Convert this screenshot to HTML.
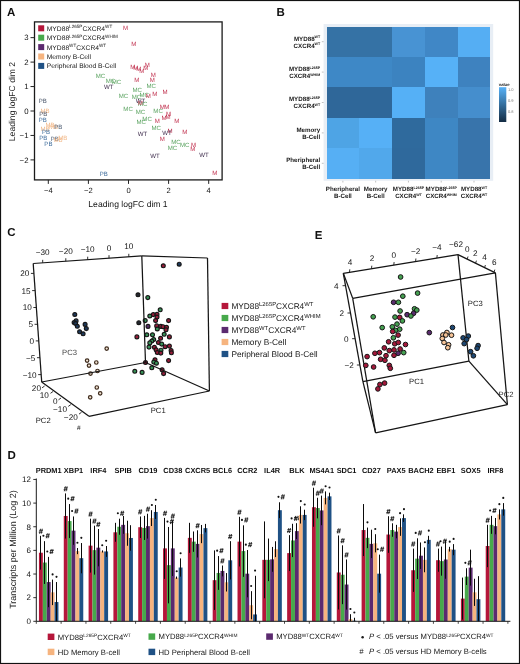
<!DOCTYPE html>
<html><head><meta charset="utf-8"><style>
html,body{margin:0;padding:0;background:#fff;overflow:hidden;width:520px;height:664px;}
svg{display:block;font-family:"Liberation Sans", sans-serif;will-change:transform;text-rendering:geometricPrecision;}
</style></head><body>
<svg width="520" height="664" viewBox="0 0 520 664">
<rect x="0" y="0" width="520" height="664" fill="#fff"/>
<text x="11.15" y="15.7" text-anchor="middle" font-size="11.5" font-weight="bold" fill="#111">A</text>
<text x="280.6" y="15.7" text-anchor="middle" font-size="11.5" font-weight="bold" fill="#111">B</text>
<text x="11.4" y="235.5" text-anchor="middle" font-size="11.5" font-weight="bold" fill="#111">C</text>
<text x="318.6" y="238.9" text-anchor="middle" font-size="11.5" font-weight="bold" fill="#111">E</text>
<text x="11.65" y="458.8" text-anchor="middle" font-size="11.5" font-weight="bold" fill="#111">D</text>
<rect x="34.5" y="21.9" width="187.60" height="158.00" fill="none" stroke="#1a1a1a" stroke-width="1.3"/>
<line x1="30.50" y1="159.90" x2="34.50" y2="159.90" stroke="#222" stroke-width="1.0" />
<text x="28.50" y="162.70" font-size="7.8" text-anchor="end" font-weight="normal" fill="#151515" >−2</text>
<line x1="30.50" y1="135.45" x2="34.50" y2="135.45" stroke="#222" stroke-width="1.0" />
<text x="28.50" y="138.25" font-size="7.8" text-anchor="end" font-weight="normal" fill="#151515" >−1</text>
<line x1="30.50" y1="111.00" x2="34.50" y2="111.00" stroke="#222" stroke-width="1.0" />
<text x="28.50" y="113.80" font-size="7.8" text-anchor="end" font-weight="normal" fill="#151515" >0</text>
<line x1="30.50" y1="86.55" x2="34.50" y2="86.55" stroke="#222" stroke-width="1.0" />
<text x="28.50" y="89.35" font-size="7.8" text-anchor="end" font-weight="normal" fill="#151515" >1</text>
<line x1="30.50" y1="62.10" x2="34.50" y2="62.10" stroke="#222" stroke-width="1.0" />
<text x="28.50" y="64.90" font-size="7.8" text-anchor="end" font-weight="normal" fill="#151515" >2</text>
<line x1="30.50" y1="37.65" x2="34.50" y2="37.65" stroke="#222" stroke-width="1.0" />
<text x="28.50" y="40.45" font-size="7.8" text-anchor="end" font-weight="normal" fill="#151515" >3</text>
<line x1="48.30" y1="179.90" x2="48.30" y2="183.90" stroke="#222" stroke-width="1.0" />
<text x="48.30" y="193.40" font-size="7.6" text-anchor="middle" font-weight="normal" fill="#151515" >−4</text>
<line x1="88.40" y1="179.90" x2="88.40" y2="183.90" stroke="#222" stroke-width="1.0" />
<text x="88.40" y="193.40" font-size="7.6" text-anchor="middle" font-weight="normal" fill="#151515" >−2</text>
<line x1="128.50" y1="179.90" x2="128.50" y2="183.90" stroke="#222" stroke-width="1.0" />
<text x="128.50" y="193.40" font-size="7.6" text-anchor="middle" font-weight="normal" fill="#151515" >0</text>
<line x1="168.60" y1="179.90" x2="168.60" y2="183.90" stroke="#222" stroke-width="1.0" />
<text x="168.60" y="193.40" font-size="7.6" text-anchor="middle" font-weight="normal" fill="#151515" >2</text>
<line x1="208.70" y1="179.90" x2="208.70" y2="183.90" stroke="#222" stroke-width="1.0" />
<text x="208.70" y="193.40" font-size="7.6" text-anchor="middle" font-weight="normal" fill="#151515" >4</text>
<text x="128.00" y="207.30" font-size="8.6" text-anchor="middle" font-weight="normal" fill="#151515" >Leading logFC dim 1</text>
<text transform="translate(14.5,101.5) rotate(-90)" font-size="8.6" text-anchor="middle" fill="#222">Leading logFC dim 2</text>
<rect x="38.20" y="25.30" width="6.00" height="6.00" fill="#b5163a" />
<text x="46.80" y="30.70" font-size="6.7" text-anchor="start" font-weight="normal" fill="#151515" >MYD88<tspan font-size="4.6" dy="-2.6">L265P</tspan><tspan dy="2.6">CXCR4</tspan><tspan font-size="4.6" dy="-2.6">WT</tspan></text>
<rect x="38.20" y="34.70" width="6.00" height="6.00" fill="#47a94b" />
<text x="46.80" y="40.10" font-size="6.7" text-anchor="start" font-weight="normal" fill="#151515" >MYD88<tspan font-size="4.6" dy="-2.6">L265P</tspan><tspan dy="2.6">CXCR4</tspan><tspan font-size="4.6" dy="-2.6">WHIM</tspan></text>
<rect x="38.20" y="44.10" width="6.00" height="6.00" fill="#5b2a6f" />
<text x="46.80" y="49.50" font-size="6.7" text-anchor="start" font-weight="normal" fill="#151515" >MYD88<tspan font-size="4.6" dy="-2.6">WT</tspan><tspan dy="2.6">CXCR4</tspan><tspan font-size="4.6" dy="-2.6">WT</tspan></text>
<rect x="38.20" y="53.50" width="6.00" height="6.00" fill="#f6b47f" />
<text x="46.80" y="58.90" font-size="6.7" text-anchor="start" font-weight="normal" fill="#151515" >Memory B-Cell</text>
<rect x="38.20" y="62.90" width="6.00" height="6.00" fill="#1f5185" />
<text x="46.80" y="68.30" font-size="6.7" text-anchor="start" font-weight="normal" fill="#151515" >Peripheral Blood B-Cell</text>
<text x="125.50" y="29.90" font-size="6.1" text-anchor="middle" font-weight="normal" fill="#c23552" >M</text>
<text x="133.70" y="46.20" font-size="6.1" text-anchor="middle" font-weight="normal" fill="#c23552" >M</text>
<text x="132.70" y="69.20" font-size="6.1" text-anchor="middle" font-weight="normal" fill="#c23552" >M</text>
<text x="135.80" y="70.30" font-size="6.1" text-anchor="middle" font-weight="normal" fill="#c23552" >M</text>
<text x="138.80" y="71.00" font-size="6.1" text-anchor="middle" font-weight="normal" fill="#c23552" >M</text>
<text x="141.90" y="72.60" font-size="6.1" text-anchor="middle" font-weight="normal" fill="#c23552" >M</text>
<text x="145.80" y="70.30" font-size="6.1" text-anchor="middle" font-weight="normal" fill="#c23552" >M</text>
<text x="147.30" y="66.70" font-size="6.1" text-anchor="middle" font-weight="normal" fill="#c23552" >M</text>
<text x="136.80" y="81.80" font-size="6.1" text-anchor="middle" font-weight="normal" fill="#c23552" >M</text>
<text x="153.20" y="76.90" font-size="6.1" text-anchor="middle" font-weight="normal" fill="#c23552" >M</text>
<text x="152.20" y="81.50" font-size="6.1" text-anchor="middle" font-weight="normal" fill="#c23552" >M</text>
<text x="151.20" y="88.30" font-size="6.1" text-anchor="middle" font-weight="normal" fill="#5ca462" >MC</text>
<text x="137.30" y="92.30" font-size="6.1" text-anchor="middle" font-weight="normal" fill="#5ca462" >MC</text>
<text x="123.50" y="98.40" font-size="6.1" text-anchor="middle" font-weight="normal" fill="#5ca462" >MC</text>
<text x="136.50" y="98.70" font-size="6.1" text-anchor="middle" font-weight="normal" fill="#5ca462" >MC</text>
<text x="144.20" y="96.90" font-size="6.1" text-anchor="middle" font-weight="normal" fill="#5ca462" >MC</text>
<text x="148.40" y="97.50" font-size="6.1" text-anchor="middle" font-weight="normal" fill="#c23552" >M</text>
<text x="154.70" y="96.00" font-size="6.1" text-anchor="middle" font-weight="normal" fill="#c23552" >M</text>
<text x="165.00" y="94.10" font-size="6.1" text-anchor="middle" font-weight="normal" fill="#c23552" >M</text>
<text x="140.40" y="102.60" font-size="6.1" text-anchor="middle" font-weight="normal" fill="#3e2c4c" >WT</text>
<text x="142.70" y="106.10" font-size="6.1" text-anchor="middle" font-weight="normal" fill="#5ca462" >MC</text>
<text x="140.40" y="104.90" font-size="6.1" text-anchor="middle" font-weight="normal" fill="#c23552" >M</text>
<text x="128.10" y="111.00" font-size="6.1" text-anchor="middle" font-weight="normal" fill="#5ca462" >MC</text>
<text x="140.40" y="114.40" font-size="6.1" text-anchor="middle" font-weight="normal" fill="#5ca462" >MC</text>
<text x="158.10" y="113.40" font-size="6.1" text-anchor="middle" font-weight="normal" fill="#5ca462" >MC</text>
<text x="162.20" y="108.60" font-size="6.1" text-anchor="middle" font-weight="normal" fill="#c23552" >M</text>
<text x="166.70" y="109.40" font-size="6.1" text-anchor="middle" font-weight="normal" fill="#c23552" >M</text>
<text x="168.60" y="115.80" font-size="6.1" text-anchor="middle" font-weight="normal" fill="#c23552" >M</text>
<text x="164.10" y="119.70" font-size="6.1" text-anchor="middle" font-weight="normal" fill="#c23552" >M</text>
<text x="168.00" y="119.20" font-size="6.1" text-anchor="middle" font-weight="normal" fill="#c23552" >M</text>
<text x="141.20" y="123.70" font-size="6.1" text-anchor="middle" font-weight="normal" fill="#5ca462" >MC</text>
<text x="147.10" y="120.70" font-size="6.1" text-anchor="middle" font-weight="normal" fill="#5ca462" >MC</text>
<text x="157.30" y="122.70" font-size="6.1" text-anchor="middle" font-weight="normal" fill="#c23552" >M</text>
<text x="176.90" y="122.70" font-size="6.1" text-anchor="middle" font-weight="normal" fill="#c23552" >M</text>
<text x="156.30" y="129.60" font-size="6.1" text-anchor="middle" font-weight="normal" fill="#5ca462" >MC</text>
<text x="142.50" y="136.40" font-size="6.1" text-anchor="middle" font-weight="normal" fill="#3e2c4c" >WT</text>
<text x="170.00" y="132.90" font-size="6.1" text-anchor="middle" font-weight="normal" fill="#c23552" >M</text>
<text x="167.10" y="135.40" font-size="6.1" text-anchor="middle" font-weight="normal" fill="#3e2c4c" >WT</text>
<text x="184.70" y="134.10" font-size="6.1" text-anchor="middle" font-weight="normal" fill="#c23552" >M</text>
<text x="162.20" y="141.30" font-size="6.1" text-anchor="middle" font-weight="normal" fill="#c23552" >M</text>
<text x="175.90" y="143.90" font-size="6.1" text-anchor="middle" font-weight="normal" fill="#5ca462" >MC</text>
<text x="184.70" y="147.20" font-size="6.1" text-anchor="middle" font-weight="normal" fill="#5ca462" >MC</text>
<text x="172.50" y="149.70" font-size="6.1" text-anchor="middle" font-weight="normal" fill="#5ca462" >MC</text>
<text x="193.50" y="146.60" font-size="6.1" text-anchor="middle" font-weight="normal" fill="#c23552" >M</text>
<text x="192.90" y="150.50" font-size="6.1" text-anchor="middle" font-weight="normal" fill="#c23552" >M</text>
<text x="154.90" y="157.60" font-size="6.1" text-anchor="middle" font-weight="normal" fill="#3e2c4c" >WT</text>
<text x="203.90" y="157.00" font-size="6.1" text-anchor="middle" font-weight="normal" fill="#3e2c4c" >WT</text>
<text x="214.70" y="174.70" font-size="6.1" text-anchor="middle" font-weight="normal" fill="#c23552" >M</text>
<text x="100.40" y="78.00" font-size="6.1" text-anchor="middle" font-weight="normal" fill="#5ca462" >MC</text>
<text x="110.40" y="82.60" font-size="6.1" text-anchor="middle" font-weight="normal" fill="#5ca462" >MC</text>
<text x="116.50" y="84.10" font-size="6.1" text-anchor="middle" font-weight="normal" fill="#5ca462" >MC</text>
<text x="108.80" y="88.70" font-size="6.1" text-anchor="middle" font-weight="normal" fill="#3e2c4c" >WT</text>
<text x="42.70" y="102.80" font-size="6.1" text-anchor="middle" font-weight="normal" fill="#4a5568" >PB</text>
<text x="45.00" y="113.00" font-size="6.1" text-anchor="middle" font-weight="normal" fill="#f2b98a" >MB</text>
<text x="43.20" y="115.80" font-size="6.1" text-anchor="middle" font-weight="normal" fill="#4a5060" >PB</text>
<text x="42.70" y="122.00" font-size="6.1" text-anchor="middle" font-weight="normal" fill="#3f6d9c" >PB</text>
<text x="50.10" y="126.80" font-size="6.1" text-anchor="middle" font-weight="normal" fill="#f2b98a" >MB</text>
<text x="53.50" y="128.70" font-size="6.1" text-anchor="middle" font-weight="normal" fill="#f2b98a" >MB</text>
<text x="58.20" y="128.90" font-size="6.1" text-anchor="middle" font-weight="normal" fill="#4a5a70" >PB</text>
<text x="45.00" y="130.80" font-size="6.1" text-anchor="middle" font-weight="normal" fill="#f2b98a" >MB</text>
<text x="46.10" y="134.00" font-size="6.1" text-anchor="middle" font-weight="normal" fill="#3f6d9c" >PB</text>
<text x="43.20" y="139.50" font-size="6.1" text-anchor="middle" font-weight="normal" fill="#3f6d9c" >PB</text>
<text x="54.80" y="141.20" font-size="6.1" text-anchor="middle" font-weight="normal" fill="#4a5a70" >PB</text>
<text x="62.80" y="140.10" font-size="6.1" text-anchor="middle" font-weight="normal" fill="#f2b98a" >MB</text>
<text x="58.00" y="141.70" font-size="6.1" text-anchor="middle" font-weight="normal" fill="#f2b98a" >MB</text>
<text x="48.40" y="146.40" font-size="6.1" text-anchor="middle" font-weight="normal" fill="#3f6d9c" >PB</text>
<text x="103.80" y="175.70" font-size="6.1" text-anchor="middle" font-weight="normal" fill="#3f6d9c" >PB</text>
<rect x="323.60" y="24.00" width="169.60" height="156.80" fill="#e8eef5" />
<rect x="326.50" y="26.50" width="33.38" height="31.00" fill="#3572a5" shape-rendering="crispEdges"/>
<rect x="359.28" y="26.50" width="33.38" height="31.00" fill="#3572a5" shape-rendering="crispEdges"/>
<rect x="392.06" y="26.50" width="33.38" height="31.00" fill="#4893d3" shape-rendering="crispEdges"/>
<rect x="424.84" y="26.50" width="33.38" height="31.00" fill="#4087c6" shape-rendering="crispEdges"/>
<rect x="457.62" y="26.50" width="32.78" height="31.00" fill="#55aef3" shape-rendering="crispEdges"/>
<rect x="326.50" y="56.90" width="33.38" height="31.00" fill="#3e88c6" shape-rendering="crispEdges"/>
<rect x="359.28" y="56.90" width="33.38" height="31.00" fill="#3e88c6" shape-rendering="crispEdges"/>
<rect x="392.06" y="56.90" width="33.38" height="31.00" fill="#3c83c0" shape-rendering="crispEdges"/>
<rect x="424.84" y="56.90" width="33.38" height="31.00" fill="#56b1f7" shape-rendering="crispEdges"/>
<rect x="457.62" y="56.90" width="32.78" height="31.00" fill="#3e82bf" shape-rendering="crispEdges"/>
<rect x="326.50" y="87.30" width="33.38" height="31.00" fill="#2f6799" shape-rendering="crispEdges"/>
<rect x="359.28" y="87.30" width="33.38" height="31.00" fill="#2f6799" shape-rendering="crispEdges"/>
<rect x="392.06" y="87.30" width="33.38" height="31.00" fill="#55b0f6" shape-rendering="crispEdges"/>
<rect x="424.84" y="87.30" width="33.38" height="31.00" fill="#3e81bc" shape-rendering="crispEdges"/>
<rect x="457.62" y="87.30" width="32.78" height="31.00" fill="#458ecd" shape-rendering="crispEdges"/>
<rect x="326.50" y="117.70" width="33.38" height="31.00" fill="#4ea4e5" shape-rendering="crispEdges"/>
<rect x="359.28" y="117.70" width="33.38" height="31.00" fill="#56b0f6" shape-rendering="crispEdges"/>
<rect x="392.06" y="117.70" width="33.38" height="31.00" fill="#2f6a9d" shape-rendering="crispEdges"/>
<rect x="424.84" y="117.70" width="33.38" height="31.00" fill="#3e87c4" shape-rendering="crispEdges"/>
<rect x="457.62" y="117.70" width="32.78" height="31.00" fill="#3874ab" shape-rendering="crispEdges"/>
<rect x="326.50" y="148.10" width="33.38" height="30.40" fill="#56aff4" shape-rendering="crispEdges"/>
<rect x="359.28" y="148.10" width="33.38" height="30.40" fill="#51a8eb" shape-rendering="crispEdges"/>
<rect x="392.06" y="148.10" width="33.38" height="30.40" fill="#2f699c" shape-rendering="crispEdges"/>
<rect x="424.84" y="148.10" width="33.38" height="30.40" fill="#3e87c4" shape-rendering="crispEdges"/>
<rect x="457.62" y="148.10" width="32.78" height="30.40" fill="#3874ab" shape-rendering="crispEdges"/>
<text x="320.20" y="40.50" font-size="6.2" text-anchor="end" font-weight="bold" fill="#1a1a1a" >MYD88<tspan font-size="3.6" dy="-2.2">WT</tspan></text>
<text x="320.20" y="47.50" font-size="6.2" text-anchor="end" font-weight="bold" fill="#1a1a1a" >CXCR4<tspan font-size="3.6" dy="-2.2">WT</tspan></text>
<text x="320.20" y="70.90" font-size="6.2" text-anchor="end" font-weight="bold" fill="#1a1a1a" >MYD88<tspan font-size="3.6" dy="-2.2">L265P</tspan></text>
<text x="320.20" y="77.90" font-size="6.2" text-anchor="end" font-weight="bold" fill="#1a1a1a" >CXCR4<tspan font-size="3.6" dy="-2.2">WHIM</tspan></text>
<text x="320.20" y="101.30" font-size="6.2" text-anchor="end" font-weight="bold" fill="#1a1a1a" >MYD88<tspan font-size="3.6" dy="-2.2">L265P</tspan></text>
<text x="320.20" y="108.30" font-size="6.2" text-anchor="end" font-weight="bold" fill="#1a1a1a" >CXCR4<tspan font-size="3.6" dy="-2.2">WT</tspan></text>
<text x="320.20" y="131.70" font-size="6.2" text-anchor="end" font-weight="bold" fill="#1a1a1a" >Memory</text>
<text x="320.20" y="138.70" font-size="6.2" text-anchor="end" font-weight="bold" fill="#1a1a1a" >B-Cell</text>
<text x="320.20" y="162.10" font-size="6.2" text-anchor="end" font-weight="bold" fill="#1a1a1a" >Pheripheral</text>
<text x="320.20" y="169.10" font-size="6.2" text-anchor="end" font-weight="bold" fill="#1a1a1a" >B-Cell</text>
<line x1="342.89" y1="180.80" x2="342.89" y2="182.50" stroke="#999" stroke-width="0.6" />
<text x="342.89" y="191.00" font-size="6.2" text-anchor="middle" font-weight="bold" fill="#1a1a1a" >Pheripheral</text>
<text x="342.89" y="197.80" font-size="6.2" text-anchor="middle" font-weight="bold" fill="#1a1a1a" >B-Cell</text>
<line x1="375.67" y1="180.80" x2="375.67" y2="182.50" stroke="#999" stroke-width="0.6" />
<text x="375.67" y="191.00" font-size="6.2" text-anchor="middle" font-weight="bold" fill="#1a1a1a" >Memory</text>
<text x="375.67" y="197.80" font-size="6.2" text-anchor="middle" font-weight="bold" fill="#1a1a1a" >B-Cell</text>
<line x1="408.45" y1="180.80" x2="408.45" y2="182.50" stroke="#999" stroke-width="0.6" />
<text x="408.45" y="191.00" font-size="6.2" text-anchor="middle" font-weight="bold" fill="#1a1a1a" >MYD88<tspan font-size="3.6" dy="-2.2">L265P</tspan></text>
<text x="408.45" y="197.80" font-size="6.2" text-anchor="middle" font-weight="bold" fill="#1a1a1a" >CXCR4<tspan font-size="3.6" dy="-2.2">WT</tspan></text>
<line x1="441.23" y1="180.80" x2="441.23" y2="182.50" stroke="#999" stroke-width="0.6" />
<text x="441.23" y="191.00" font-size="6.2" text-anchor="middle" font-weight="bold" fill="#1a1a1a" >MYD88<tspan font-size="3.6" dy="-2.2">L265P</tspan></text>
<text x="441.23" y="197.80" font-size="6.2" text-anchor="middle" font-weight="bold" fill="#1a1a1a" >CXCR4<tspan font-size="3.6" dy="-2.2">WHIM</tspan></text>
<line x1="474.01" y1="180.80" x2="474.01" y2="182.50" stroke="#999" stroke-width="0.6" />
<text x="474.01" y="191.00" font-size="6.2" text-anchor="middle" font-weight="bold" fill="#1a1a1a" >MYD88<tspan font-size="3.6" dy="-2.2">WT</tspan></text>
<text x="474.01" y="197.80" font-size="6.2" text-anchor="middle" font-weight="bold" fill="#1a1a1a" >CXCR4<tspan font-size="3.6" dy="-2.2">WT</tspan></text>
<line x1="321.80" y1="41.70" x2="323.60" y2="41.70" stroke="#999" stroke-width="0.6" />
<line x1="321.80" y1="72.10" x2="323.60" y2="72.10" stroke="#999" stroke-width="0.6" />
<line x1="321.80" y1="102.50" x2="323.60" y2="102.50" stroke="#999" stroke-width="0.6" />
<line x1="321.80" y1="132.90" x2="323.60" y2="132.90" stroke="#999" stroke-width="0.6" />
<line x1="321.80" y1="163.30" x2="323.60" y2="163.30" stroke="#999" stroke-width="0.6" />
<defs><linearGradient id="hg" x1="0" y1="0" x2="0" y2="1"><stop offset="0" stop-color="#56b1f7"/><stop offset="1" stop-color="#132b43"/></linearGradient></defs>
<text x="498.80" y="86.00" font-size="4.2" text-anchor="start" font-weight="bold" fill="#151515" >value</text>
<rect x="499.00" y="87.20" width="7.30" height="34.80" fill="url(#hg)" />
<text x="508.00" y="91.30" font-size="4.0" text-anchor="start" font-weight="normal" fill="#777" >1.0</text>
<text x="508.00" y="102.30" font-size="4.0" text-anchor="start" font-weight="normal" fill="#777" >0.9</text>
<text x="508.00" y="113.30" font-size="4.0" text-anchor="start" font-weight="normal" fill="#777" >0.8</text>
<line x1="42.70" y1="262.84" x2="42.70" y2="259.84" stroke="#1a1a1a" stroke-width="0.9" />
<text x="42.70" y="255.20" font-size="8.2" text-anchor="middle" font-weight="normal" fill="#151515" >−30</text>
<line x1="65.80" y1="261.22" x2="65.80" y2="258.22" stroke="#1a1a1a" stroke-width="0.9" />
<text x="65.80" y="253.60" font-size="8.2" text-anchor="middle" font-weight="normal" fill="#151515" >−20</text>
<line x1="87.70" y1="259.69" x2="87.70" y2="256.69" stroke="#1a1a1a" stroke-width="0.9" />
<text x="87.70" y="252.40" font-size="8.2" text-anchor="middle" font-weight="normal" fill="#151515" >−10</text>
<line x1="109.00" y1="258.20" x2="109.00" y2="255.20" stroke="#1a1a1a" stroke-width="0.9" />
<text x="109.00" y="250.60" font-size="8.2" text-anchor="middle" font-weight="normal" fill="#151515" >0</text>
<line x1="128.80" y1="256.81" x2="128.80" y2="253.81" stroke="#1a1a1a" stroke-width="0.9" />
<text x="128.80" y="249.00" font-size="8.2" text-anchor="middle" font-weight="normal" fill="#151515" >10</text>
<line x1="30.91" y1="273.40" x2="33.91" y2="273.40" stroke="#1a1a1a" stroke-width="0.9" />
<text x="29.31" y="276.30" font-size="8.2" text-anchor="end" font-weight="normal" fill="#151515" >20</text>
<line x1="32.14" y1="290.60" x2="35.14" y2="290.60" stroke="#1a1a1a" stroke-width="0.9" />
<text x="30.54" y="293.50" font-size="8.2" text-anchor="end" font-weight="normal" fill="#151515" >15</text>
<line x1="33.36" y1="307.50" x2="36.36" y2="307.50" stroke="#1a1a1a" stroke-width="0.9" />
<text x="31.76" y="310.40" font-size="8.2" text-anchor="end" font-weight="normal" fill="#151515" >10</text>
<line x1="34.56" y1="324.30" x2="37.56" y2="324.30" stroke="#1a1a1a" stroke-width="0.9" />
<text x="32.96" y="327.20" font-size="8.2" text-anchor="end" font-weight="normal" fill="#151515" >5</text>
<line x1="35.75" y1="340.90" x2="38.75" y2="340.90" stroke="#1a1a1a" stroke-width="0.9" />
<text x="34.15" y="343.80" font-size="8.2" text-anchor="end" font-weight="normal" fill="#151515" >0</text>
<line x1="36.96" y1="357.70" x2="39.96" y2="357.70" stroke="#1a1a1a" stroke-width="0.9" />
<text x="35.36" y="360.60" font-size="8.2" text-anchor="end" font-weight="normal" fill="#151515" >−5</text>
<line x1="38.17" y1="374.60" x2="41.17" y2="374.60" stroke="#1a1a1a" stroke-width="0.9" />
<text x="36.57" y="377.50" font-size="8.2" text-anchor="end" font-weight="normal" fill="#151515" >−10</text>
<line x1="44.60" y1="386.00" x2="42.10" y2="387.80" stroke="#1a1a1a" stroke-width="0.9" />
<text x="36.40" y="390.90" font-size="8.2" text-anchor="middle" font-weight="normal" fill="#151515" >20</text>
<line x1="53.00" y1="391.50" x2="50.50" y2="393.30" stroke="#1a1a1a" stroke-width="0.9" />
<text x="44.20" y="398.30" font-size="8.2" text-anchor="middle" font-weight="normal" fill="#151515" >10</text>
<line x1="61.00" y1="398.00" x2="58.50" y2="399.80" stroke="#1a1a1a" stroke-width="0.9" />
<text x="55.40" y="404.40" font-size="8.2" text-anchor="middle" font-weight="normal" fill="#151515" >0</text>
<line x1="70.80" y1="404.60" x2="68.30" y2="406.40" stroke="#1a1a1a" stroke-width="0.9" />
<text x="60.00" y="411.90" font-size="8.2" text-anchor="middle" font-weight="normal" fill="#151515" >−10</text>
<line x1="81.50" y1="412.30" x2="79.00" y2="414.10" stroke="#1a1a1a" stroke-width="0.9" />
<text x="70.80" y="419.90" font-size="8.2" text-anchor="middle" font-weight="normal" fill="#151515" >−20</text>
<text x="43.20" y="423.30" font-size="7.7" text-anchor="middle" font-weight="normal" fill="#151515" >PC2</text>
<text x="78.70" y="430.30" font-size="6.5" text-anchor="middle" font-weight="normal" fill="#151515" >#</text>
<text x="158.20" y="413.40" font-size="7.7" text-anchor="middle" font-weight="normal" fill="#151515" >PC1</text>
<text x="69.50" y="355.00" font-size="7.7" text-anchor="middle" font-weight="normal" fill="#444" >PC3</text>
<circle cx="74.8" cy="314.5" r="1.95" fill="#1e3a5c" stroke="#161616" stroke-width="1.15"/>
<circle cx="76.1" cy="320.9" r="1.95" fill="#1e3a5c" stroke="#161616" stroke-width="1.15"/>
<circle cx="74.1" cy="322.5" r="1.95" fill="#1e3a5c" stroke="#161616" stroke-width="1.15"/>
<circle cx="75.6" cy="323.5" r="1.95" fill="#1e3a5c" stroke="#161616" stroke-width="1.15"/>
<circle cx="77.3" cy="326.3" r="1.95" fill="#1e3a5c" stroke="#161616" stroke-width="1.15"/>
<circle cx="85.1" cy="324.4" r="1.95" fill="#1e3a5c" stroke="#161616" stroke-width="1.15"/>
<circle cx="86.3" cy="328.6" r="1.95" fill="#1e3a5c" stroke="#161616" stroke-width="1.15"/>
<circle cx="79.6" cy="331.8" r="1.95" fill="#1e3a5c" stroke="#161616" stroke-width="1.15"/>
<circle cx="83.1" cy="333.8" r="1.95" fill="#1e3a5c" stroke="#161616" stroke-width="1.15"/>
<circle cx="106.7" cy="348.6" r="1.75" fill="#f1e3d3" stroke="#3d2a1c" stroke-width="1.2"/>
<circle cx="87.1" cy="360.6" r="1.75" fill="#f1e3d3" stroke="#3d2a1c" stroke-width="1.2"/>
<circle cx="96.3" cy="362.5" r="1.75" fill="#f1e3d3" stroke="#3d2a1c" stroke-width="1.2"/>
<circle cx="89.0" cy="365.6" r="1.75" fill="#f1e3d3" stroke="#3d2a1c" stroke-width="1.2"/>
<circle cx="97.5" cy="371.0" r="1.75" fill="#f1e3d3" stroke="#3d2a1c" stroke-width="1.2"/>
<circle cx="90.5" cy="373.6" r="1.75" fill="#f1e3d3" stroke="#3d2a1c" stroke-width="1.2"/>
<circle cx="96.8" cy="387.5" r="1.75" fill="#f1e3d3" stroke="#3d2a1c" stroke-width="1.2"/>
<circle cx="100.2" cy="393.3" r="1.75" fill="#f1e3d3" stroke="#3d2a1c" stroke-width="1.2"/>
<circle cx="90.2" cy="397.3" r="1.75" fill="#f1e3d3" stroke="#3d2a1c" stroke-width="1.2"/>
<circle cx="138.0" cy="294.8" r="1.95" fill="#22262e" stroke="#161616" stroke-width="1.15"/>
<circle cx="138.8" cy="322.7" r="1.95" fill="#22262e" stroke="#161616" stroke-width="1.15"/>
<circle cx="163.3" cy="265.8" r="1.95" fill="#9a1c3a" stroke="#161616" stroke-width="1.15"/>
<circle cx="179.2" cy="264.2" r="1.95" fill="#1e3a5c" stroke="#161616" stroke-width="1.15"/>
<circle cx="147.8" cy="297.6" r="1.95" fill="#379357" stroke="#161616" stroke-width="1.15"/>
<circle cx="160.2" cy="309.8" r="1.95" fill="#379357" stroke="#161616" stroke-width="1.15"/>
<circle cx="149.8" cy="316.0" r="1.95" fill="#379357" stroke="#161616" stroke-width="1.15"/>
<circle cx="153.3" cy="314.6" r="1.95" fill="#9a1c3a" stroke="#161616" stroke-width="1.15"/>
<circle cx="157.0" cy="314.4" r="1.95" fill="#9a1c3a" stroke="#161616" stroke-width="1.15"/>
<circle cx="157.0" cy="317.1" r="1.95" fill="#9a1c3a" stroke="#161616" stroke-width="1.15"/>
<circle cx="145.2" cy="320.6" r="1.95" fill="#379357" stroke="#161616" stroke-width="1.15"/>
<circle cx="155.6" cy="320.6" r="1.95" fill="#9a1c3a" stroke="#161616" stroke-width="1.15"/>
<circle cx="168.6" cy="320.6" r="1.95" fill="#9a1c3a" stroke="#161616" stroke-width="1.15"/>
<circle cx="148.0" cy="326.4" r="1.95" fill="#552c68" stroke="#161616" stroke-width="1.15"/>
<circle cx="156.7" cy="325.9" r="1.95" fill="#9a1c3a" stroke="#161616" stroke-width="1.15"/>
<circle cx="160.8" cy="326.4" r="1.95" fill="#9a1c3a" stroke="#161616" stroke-width="1.15"/>
<circle cx="163.0" cy="326.7" r="1.95" fill="#9a1c3a" stroke="#161616" stroke-width="1.15"/>
<circle cx="166.5" cy="327.3" r="1.95" fill="#9a1c3a" stroke="#161616" stroke-width="1.15"/>
<circle cx="157.3" cy="329.0" r="1.95" fill="#379357" stroke="#161616" stroke-width="1.15"/>
<circle cx="166.0" cy="329.8" r="1.95" fill="#9a1c3a" stroke="#161616" stroke-width="1.15"/>
<circle cx="136.9" cy="336.9" r="1.95" fill="#9a1c3a" stroke="#161616" stroke-width="1.15"/>
<circle cx="146.8" cy="334.8" r="1.95" fill="#379357" stroke="#161616" stroke-width="1.15"/>
<circle cx="152.5" cy="334.8" r="1.95" fill="#379357" stroke="#161616" stroke-width="1.15"/>
<circle cx="164.2" cy="334.3" r="1.95" fill="#379357" stroke="#161616" stroke-width="1.15"/>
<circle cx="169.4" cy="336.9" r="1.95" fill="#9a1c3a" stroke="#161616" stroke-width="1.15"/>
<circle cx="160.6" cy="338.3" r="1.95" fill="#9a1c3a" stroke="#161616" stroke-width="1.15"/>
<circle cx="153.7" cy="339.5" r="1.95" fill="#379357" stroke="#161616" stroke-width="1.15"/>
<circle cx="151.8" cy="341.0" r="1.95" fill="#379357" stroke="#161616" stroke-width="1.15"/>
<circle cx="149.8" cy="342.9" r="1.95" fill="#379357" stroke="#161616" stroke-width="1.15"/>
<circle cx="158.4" cy="342.5" r="1.95" fill="#9a1c3a" stroke="#161616" stroke-width="1.15"/>
<circle cx="161.7" cy="344.1" r="1.95" fill="#379357" stroke="#161616" stroke-width="1.15"/>
<circle cx="149.0" cy="347.1" r="1.95" fill="#379357" stroke="#161616" stroke-width="1.15"/>
<circle cx="154.4" cy="347.3" r="1.95" fill="#9a1c3a" stroke="#161616" stroke-width="1.15"/>
<circle cx="165.1" cy="346.7" r="1.95" fill="#9a1c3a" stroke="#161616" stroke-width="1.15"/>
<circle cx="169.4" cy="346.1" r="1.95" fill="#9a1c3a" stroke="#161616" stroke-width="1.15"/>
<circle cx="156.1" cy="349.8" r="1.95" fill="#9a1c3a" stroke="#161616" stroke-width="1.15"/>
<circle cx="161.0" cy="350.2" r="1.95" fill="#379357" stroke="#161616" stroke-width="1.15"/>
<circle cx="171.1" cy="350.5" r="1.95" fill="#9a1c3a" stroke="#161616" stroke-width="1.15"/>
<circle cx="157.3" cy="352.5" r="1.95" fill="#9a1c3a" stroke="#161616" stroke-width="1.15"/>
<circle cx="160.8" cy="353.1" r="1.95" fill="#9a1c3a" stroke="#161616" stroke-width="1.15"/>
<circle cx="171.4" cy="352.8" r="1.95" fill="#9a1c3a" stroke="#161616" stroke-width="1.15"/>
<circle cx="155.0" cy="359.8" r="1.95" fill="#9a1c3a" stroke="#161616" stroke-width="1.15"/>
<circle cx="153.8" cy="362.1" r="1.95" fill="#379357" stroke="#161616" stroke-width="1.15"/>
<circle cx="156.4" cy="363.2" r="1.95" fill="#379357" stroke="#161616" stroke-width="1.15"/>
<circle cx="168.6" cy="360.6" r="1.95" fill="#9a1c3a" stroke="#161616" stroke-width="1.15"/>
<circle cx="145.5" cy="362.5" r="1.95" fill="#9a1c3a" stroke="#161616" stroke-width="1.15"/>
<circle cx="151.8" cy="367.8" r="1.95" fill="#379357" stroke="#161616" stroke-width="1.15"/>
<circle cx="162.1" cy="369.8" r="1.95" fill="#9a1c3a" stroke="#161616" stroke-width="1.15"/>
<circle cx="163.6" cy="373.6" r="1.95" fill="#9a1c3a" stroke="#161616" stroke-width="1.15"/>
<circle cx="134.8" cy="371.3" r="1.95" fill="#379357" stroke="#161616" stroke-width="1.15"/>
<circle cx="142.1" cy="372.4" r="1.95" fill="#379357" stroke="#161616" stroke-width="1.15"/>
<line x1="33.20" y1="263.50" x2="141.80" y2="255.90" stroke="#151515" stroke-width="1.25" />
<line x1="141.80" y1="255.90" x2="207.50" y2="258.00" stroke="#151515" stroke-width="1.25" />
<line x1="33.20" y1="263.50" x2="41.70" y2="382.00" stroke="#151515" stroke-width="1.25" />
<line x1="141.80" y1="255.90" x2="145.50" y2="362.50" stroke="#151515" stroke-width="1.25" />
<line x1="207.50" y1="258.00" x2="209.40" y2="391.00" stroke="#151515" stroke-width="1.25" />
<line x1="41.70" y1="382.00" x2="145.50" y2="362.50" stroke="#151515" stroke-width="1.25" />
<line x1="145.50" y1="362.50" x2="209.40" y2="391.00" stroke="#151515" stroke-width="1.25" />
<line x1="41.70" y1="382.00" x2="89.00" y2="416.30" stroke="#151515" stroke-width="1.25" />
<line x1="89.00" y1="416.30" x2="209.40" y2="391.00" stroke="#151515" stroke-width="1.25" />
<rect x="221.60" y="302.90" width="6.70" height="6.20" fill="#b5163a" />
<text x="231.40" y="309.00" font-size="8.3" text-anchor="start" font-weight="normal" fill="#151515" >MYD88<tspan font-size="5.9" dy="-3.2">L265P</tspan><tspan dy="3.2">CXCR4</tspan><tspan font-size="5.9" dy="-3.2">WT</tspan></text>
<rect x="221.60" y="314.90" width="6.70" height="6.20" fill="#47a94b" />
<text x="231.40" y="321.00" font-size="8.3" text-anchor="start" font-weight="normal" fill="#151515" >MYD88<tspan font-size="5.9" dy="-3.2">L265P</tspan><tspan dy="3.2">CXCR4</tspan><tspan font-size="5.9" dy="-3.2">WHIM</tspan></text>
<rect x="221.60" y="326.90" width="6.70" height="6.20" fill="#5b2a6f" />
<text x="231.40" y="333.00" font-size="8.3" text-anchor="start" font-weight="normal" fill="#151515" >MYD88<tspan font-size="5.9" dy="-3.2">WT</tspan><tspan dy="3.2">CXCR4</tspan><tspan font-size="5.9" dy="-3.2">WT</tspan></text>
<rect x="221.60" y="338.90" width="6.70" height="6.20" fill="#f6b47f" />
<text x="231.40" y="345.00" font-size="8.3" text-anchor="start" font-weight="normal" fill="#151515" >Memory B-Cell</text>
<rect x="221.60" y="350.90" width="6.70" height="6.20" fill="#1f5185" />
<text x="231.40" y="357.00" font-size="8.3" text-anchor="start" font-weight="normal" fill="#151515" >Peripheral Blood B-Cell</text>
<line x1="343.30" y1="273.30" x2="458.00" y2="254.60" stroke="#151515" stroke-width="1.25" />
<line x1="458.00" y1="254.60" x2="495.40" y2="272.90" stroke="#151515" stroke-width="1.25" />
<line x1="495.40" y1="272.90" x2="352.70" y2="298.30" stroke="#151515" stroke-width="1.25" />
<line x1="352.70" y1="298.30" x2="343.30" y2="273.30" stroke="#151515" stroke-width="1.25" />
<line x1="362.90" y1="381.70" x2="468.90" y2="361.20" stroke="#151515" stroke-width="1.25" />
<line x1="468.90" y1="361.20" x2="507.40" y2="404.60" stroke="#151515" stroke-width="1.25" />
<line x1="507.40" y1="404.60" x2="375.60" y2="432.90" stroke="#151515" stroke-width="1.25" />
<line x1="375.60" y1="432.90" x2="362.90" y2="381.70" stroke="#151515" stroke-width="1.25" />
<line x1="343.30" y1="273.30" x2="362.90" y2="381.70" stroke="#151515" stroke-width="1.25" />
<line x1="458.00" y1="254.60" x2="468.90" y2="361.20" stroke="#151515" stroke-width="1.25" />
<line x1="495.40" y1="272.90" x2="507.40" y2="404.60" stroke="#151515" stroke-width="1.25" />
<line x1="352.70" y1="298.30" x2="375.60" y2="432.90" stroke="#151515" stroke-width="1.25" />
<line x1="349.50" y1="272.29" x2="349.80" y2="269.29" stroke="#1a1a1a" stroke-width="0.9" />
<text x="350.00" y="264.90" font-size="8.2" text-anchor="middle" font-weight="normal" fill="#151515" >4</text>
<line x1="371.50" y1="268.70" x2="371.80" y2="265.70" stroke="#1a1a1a" stroke-width="0.9" />
<text x="372.00" y="261.40" font-size="8.2" text-anchor="middle" font-weight="normal" fill="#151515" >2</text>
<line x1="393.80" y1="265.07" x2="394.10" y2="262.07" stroke="#1a1a1a" stroke-width="0.9" />
<text x="393.80" y="257.50" font-size="8.2" text-anchor="middle" font-weight="normal" fill="#151515" >0</text>
<line x1="415.60" y1="261.51" x2="415.90" y2="258.51" stroke="#1a1a1a" stroke-width="0.9" />
<text x="415.60" y="253.70" font-size="8.2" text-anchor="middle" font-weight="normal" fill="#151515" >−2</text>
<line x1="436.90" y1="258.04" x2="437.20" y2="255.04" stroke="#1a1a1a" stroke-width="0.9" />
<text x="436.90" y="250.20" font-size="8.2" text-anchor="middle" font-weight="normal" fill="#151515" >−4</text>
<text x="456.00" y="246.90" font-size="8.2" text-anchor="middle" font-weight="normal" fill="#151515" >−62</text>
<line x1="467.20" y1="259.10" x2="468.00" y2="256.50" stroke="#1a1a1a" stroke-width="0.9" />
<text x="467.20" y="251.60" font-size="8.2" text-anchor="middle" font-weight="normal" fill="#151515" >0</text>
<line x1="475.60" y1="263.21" x2="476.40" y2="260.61" stroke="#1a1a1a" stroke-width="0.9" />
<text x="475.30" y="255.90" font-size="8.2" text-anchor="middle" font-weight="normal" fill="#151515" >2</text>
<line x1="484.60" y1="267.62" x2="485.40" y2="265.02" stroke="#1a1a1a" stroke-width="0.9" />
<text x="484.50" y="260.20" font-size="8.2" text-anchor="middle" font-weight="normal" fill="#151515" >4</text>
<line x1="494.00" y1="272.21" x2="494.80" y2="269.61" stroke="#1a1a1a" stroke-width="0.9" />
<text x="494.40" y="265.40" font-size="8.2" text-anchor="middle" font-weight="normal" fill="#151515" >6</text>
<line x1="342.54" y1="285.70" x2="345.54" y2="285.70" stroke="#1a1a1a" stroke-width="0.9" />
<text x="336.40" y="288.60" font-size="8.2" text-anchor="middle" font-weight="normal" fill="#151515" >4</text>
<line x1="347.48" y1="313.00" x2="350.48" y2="313.00" stroke="#1a1a1a" stroke-width="0.9" />
<text x="341.90" y="315.90" font-size="8.2" text-anchor="middle" font-weight="normal" fill="#151515" >2</text>
<line x1="352.13" y1="338.70" x2="355.13" y2="338.70" stroke="#1a1a1a" stroke-width="0.9" />
<text x="346.30" y="341.60" font-size="8.2" text-anchor="middle" font-weight="normal" fill="#151515" >0</text>
<line x1="356.88" y1="365.00" x2="359.88" y2="365.00" stroke="#1a1a1a" stroke-width="0.9" />
<text x="349.20" y="367.90" font-size="8.2" text-anchor="middle" font-weight="normal" fill="#151515" >−2</text>
<text x="475.30" y="306.30" font-size="7.7" text-anchor="middle" font-weight="normal" fill="#151515" >PC3</text>
<text x="416.50" y="384.30" font-size="7.7" text-anchor="middle" font-weight="normal" fill="#151515" >PC1</text>
<text x="506.00" y="396.90" font-size="7.7" text-anchor="middle" font-weight="normal" fill="#333" >PC2</text>
<circle cx="400.6" cy="277.0" r="2.35" fill="#44a050" stroke="#161616" stroke-width="1.0"/>
<circle cx="402.8" cy="296.2" r="2.35" fill="#44a050" stroke="#161616" stroke-width="1.0"/>
<circle cx="417.6" cy="293.1" r="2.35" fill="#44a050" stroke="#161616" stroke-width="1.0"/>
<circle cx="393.6" cy="302.3" r="2.35" fill="#5a2c6e" stroke="#161616" stroke-width="1.0"/>
<circle cx="398.4" cy="302.3" r="2.35" fill="#44a050" stroke="#161616" stroke-width="1.0"/>
<circle cx="400.1" cy="311.0" r="2.35" fill="#44a050" stroke="#161616" stroke-width="1.0"/>
<circle cx="414.5" cy="308.8" r="2.35" fill="#44a050" stroke="#161616" stroke-width="1.0"/>
<circle cx="416.8" cy="310.1" r="2.35" fill="#44a050" stroke="#161616" stroke-width="1.0"/>
<circle cx="407.1" cy="314.7" r="2.35" fill="#5a2c6e" stroke="#161616" stroke-width="1.0"/>
<circle cx="413.6" cy="313.3" r="2.35" fill="#5a2c6e" stroke="#161616" stroke-width="1.0"/>
<circle cx="410.9" cy="316.0" r="2.35" fill="#44a050" stroke="#161616" stroke-width="1.0"/>
<circle cx="373.2" cy="316.8" r="2.35" fill="#44a050" stroke="#161616" stroke-width="1.0"/>
<circle cx="395.0" cy="317.1" r="2.35" fill="#44a050" stroke="#161616" stroke-width="1.0"/>
<circle cx="399.7" cy="317.4" r="2.35" fill="#a3183a" stroke="#161616" stroke-width="1.0"/>
<circle cx="402.4" cy="320.9" r="2.35" fill="#44a050" stroke="#161616" stroke-width="1.0"/>
<circle cx="397.0" cy="324.1" r="2.35" fill="#44a050" stroke="#161616" stroke-width="1.0"/>
<circle cx="392.3" cy="326.8" r="2.35" fill="#44a050" stroke="#161616" stroke-width="1.0"/>
<circle cx="382.2" cy="327.6" r="2.35" fill="#44a050" stroke="#161616" stroke-width="1.0"/>
<circle cx="399.7" cy="329.2" r="2.35" fill="#44a050" stroke="#161616" stroke-width="1.0"/>
<circle cx="395.4" cy="330.4" r="2.35" fill="#44a050" stroke="#161616" stroke-width="1.0"/>
<circle cx="392.7" cy="331.5" r="2.35" fill="#a3183a" stroke="#161616" stroke-width="1.0"/>
<circle cx="398.1" cy="335.1" r="2.35" fill="#a3183a" stroke="#161616" stroke-width="1.0"/>
<circle cx="393.4" cy="337.8" r="2.35" fill="#44a050" stroke="#161616" stroke-width="1.0"/>
<circle cx="429.3" cy="332.6" r="2.35" fill="#5a2c6e" stroke="#161616" stroke-width="1.0"/>
<circle cx="388.6" cy="341.8" r="2.35" fill="#a3183a" stroke="#161616" stroke-width="1.0"/>
<circle cx="394.7" cy="343.8" r="2.35" fill="#a3183a" stroke="#161616" stroke-width="1.0"/>
<circle cx="398.3" cy="342.5" r="2.35" fill="#a3183a" stroke="#161616" stroke-width="1.0"/>
<circle cx="405.5" cy="344.5" r="2.35" fill="#a3183a" stroke="#161616" stroke-width="1.0"/>
<circle cx="384.3" cy="347.9" r="2.35" fill="#a3183a" stroke="#161616" stroke-width="1.0"/>
<circle cx="389.3" cy="350.6" r="2.35" fill="#a3183a" stroke="#161616" stroke-width="1.0"/>
<circle cx="394.0" cy="349.9" r="2.35" fill="#a3183a" stroke="#161616" stroke-width="1.0"/>
<circle cx="400.1" cy="349.0" r="2.35" fill="#a3183a" stroke="#161616" stroke-width="1.0"/>
<circle cx="398.1" cy="353.3" r="2.35" fill="#5a2c6e" stroke="#161616" stroke-width="1.0"/>
<circle cx="403.7" cy="352.6" r="2.35" fill="#44a050" stroke="#161616" stroke-width="1.0"/>
<circle cx="374.9" cy="353.3" r="2.35" fill="#a3183a" stroke="#161616" stroke-width="1.0"/>
<circle cx="379.5" cy="352.6" r="2.35" fill="#a3183a" stroke="#161616" stroke-width="1.0"/>
<circle cx="386.0" cy="355.7" r="2.35" fill="#a3183a" stroke="#161616" stroke-width="1.0"/>
<circle cx="394.0" cy="355.3" r="2.35" fill="#a3183a" stroke="#161616" stroke-width="1.0"/>
<circle cx="367.1" cy="356.6" r="2.35" fill="#a3183a" stroke="#161616" stroke-width="1.0"/>
<circle cx="380.6" cy="359.3" r="2.35" fill="#a3183a" stroke="#161616" stroke-width="1.0"/>
<circle cx="384.9" cy="360.3" r="2.35" fill="#a3183a" stroke="#161616" stroke-width="1.0"/>
<circle cx="365.8" cy="365.4" r="2.35" fill="#a3183a" stroke="#161616" stroke-width="1.0"/>
<circle cx="373.6" cy="367.0" r="2.35" fill="#a3183a" stroke="#161616" stroke-width="1.0"/>
<circle cx="389.3" cy="365.4" r="2.35" fill="#a3183a" stroke="#161616" stroke-width="1.0"/>
<circle cx="390.3" cy="368.3" r="2.35" fill="#a3183a" stroke="#161616" stroke-width="1.0"/>
<circle cx="384.6" cy="383.1" r="2.35" fill="#a3183a" stroke="#161616" stroke-width="1.0"/>
<circle cx="379.9" cy="384.5" r="2.35" fill="#a3183a" stroke="#161616" stroke-width="1.0"/>
<circle cx="377.9" cy="388.9" r="2.35" fill="#a3183a" stroke="#161616" stroke-width="1.0"/>
<circle cx="452.5" cy="327.5" r="2.35" fill="#1d4772" stroke="#161616" stroke-width="1.0"/>
<circle cx="446.9" cy="332.5" r="2.35" fill="#f5c397" stroke="#161616" stroke-width="1.0"/>
<circle cx="442.9" cy="335.0" r="2.35" fill="#f5c397" stroke="#161616" stroke-width="1.0"/>
<circle cx="445.8" cy="335.0" r="2.35" fill="#f5c397" stroke="#161616" stroke-width="1.0"/>
<circle cx="451.5" cy="335.2" r="2.35" fill="#f5c397" stroke="#161616" stroke-width="1.0"/>
<circle cx="442.3" cy="338.5" r="2.35" fill="#f5c397" stroke="#161616" stroke-width="1.0"/>
<circle cx="444.0" cy="342.5" r="2.35" fill="#f5c397" stroke="#161616" stroke-width="1.0"/>
<circle cx="448.6" cy="344.8" r="2.35" fill="#f5c397" stroke="#161616" stroke-width="1.0"/>
<circle cx="447.8" cy="347.7" r="2.35" fill="#f5c397" stroke="#161616" stroke-width="1.0"/>
<circle cx="463.1" cy="337.9" r="2.35" fill="#1d4772" stroke="#161616" stroke-width="1.0"/>
<circle cx="468.3" cy="336.1" r="2.35" fill="#1d4772" stroke="#161616" stroke-width="1.0"/>
<circle cx="466.5" cy="339.6" r="2.35" fill="#1d4772" stroke="#161616" stroke-width="1.0"/>
<circle cx="464.2" cy="343.6" r="2.35" fill="#1d4772" stroke="#161616" stroke-width="1.0"/>
<circle cx="478.1" cy="345.6" r="2.35" fill="#1d4772" stroke="#161616" stroke-width="1.0"/>
<circle cx="477.1" cy="348.3" r="2.35" fill="#1d4772" stroke="#161616" stroke-width="1.0"/>
<circle cx="470.6" cy="351.7" r="2.35" fill="#1d4772" stroke="#161616" stroke-width="1.0"/>
<circle cx="473.4" cy="355.8" r="2.35" fill="#1d4772" stroke="#161616" stroke-width="1.0"/>
<text x="48.71" y="472.60" font-size="7.4" text-anchor="middle" font-weight="bold" fill="#111" >PRDM1</text>
<rect x="38.95" y="552.74" width="3.90" height="68.56" fill="#b5163a" />
<line x1="40.50" y1="535.84" x2="40.50" y2="569.65" stroke="#0a0a0a" stroke-width="1.0" />
<path d="M40.60,528.74L39.50,533.74M42.30,528.74L41.20,533.74M39.21,530.29L43.01,530.29M38.79,532.19L42.59,532.19" stroke="#1c1c1c" stroke-width="0.85" fill="none"/>
<rect x="42.85" y="562.55" width="3.90" height="58.75" fill="#47a94b" />
<line x1="44.50" y1="541.16" x2="44.50" y2="583.95" stroke="#0a0a0a" stroke-width="1.0" />
<circle cx="43.40" cy="535.76" r="1.05" fill="#111"/>
<path d="M47.40,533.26L46.30,538.26M49.10,533.26L48.00,538.26M46.01,534.81L49.81,534.81M45.59,536.71L49.39,536.71" stroke="#1c1c1c" stroke-width="0.85" fill="none"/>
<rect x="46.75" y="582.06" width="3.90" height="39.24" fill="#5b2a6f" />
<line x1="48.50" y1="556.88" x2="48.50" y2="607.23" stroke="#0a0a0a" stroke-width="1.0" />
<circle cx="47.30" cy="551.48" r="1.05" fill="#111"/>
<path d="M51.30,548.98L50.20,553.98M53.00,548.98L51.90,553.98M49.91,550.53L53.71,550.53M49.49,552.43L53.29,552.43" stroke="#1c1c1c" stroke-width="0.85" fill="none"/>
<rect x="50.65" y="592.34" width="3.90" height="28.96" fill="#f6b47f" />
<line x1="52.50" y1="579.58" x2="52.50" y2="605.11" stroke="#0a0a0a" stroke-width="1.0" />
<circle cx="52.60" cy="574.38" r="1.05" fill="#111"/>
<rect x="54.55" y="602.03" width="3.90" height="19.27" fill="#1f5185" />
<line x1="56.50" y1="582.06" x2="56.50" y2="621.30" stroke="#0a0a0a" stroke-width="1.0" />
<circle cx="56.50" cy="576.86" r="1.05" fill="#111"/>
<text x="73.53" y="472.60" font-size="7.4" text-anchor="middle" font-weight="bold" fill="#111" >XBP1</text>
<rect x="63.77" y="515.98" width="3.90" height="105.32" fill="#b5163a" />
<line x1="65.50" y1="493.41" x2="65.50" y2="538.56" stroke="#0a0a0a" stroke-width="1.0" />
<path d="M65.42,486.31L64.32,491.31M67.12,486.31L66.02,491.31M64.03,487.86L67.83,487.86M63.61,489.76L67.41,489.76" stroke="#1c1c1c" stroke-width="0.85" fill="none"/>
<rect x="67.67" y="521.07" width="3.90" height="100.23" fill="#47a94b" />
<line x1="69.50" y1="504.05" x2="69.50" y2="538.09" stroke="#0a0a0a" stroke-width="1.0" />
<circle cx="68.22" cy="498.65" r="1.05" fill="#111"/>
<path d="M72.22,496.15L71.12,501.15M73.92,496.15L72.82,501.15M70.83,497.70L74.63,497.70M70.41,499.60L74.21,499.60" stroke="#1c1c1c" stroke-width="0.85" fill="none"/>
<rect x="71.57" y="530.64" width="3.90" height="90.66" fill="#5b2a6f" />
<line x1="73.50" y1="516.46" x2="73.50" y2="544.82" stroke="#0a0a0a" stroke-width="1.0" />
<circle cx="72.12" cy="511.06" r="1.05" fill="#111"/>
<path d="M76.12,508.56L75.02,513.56M77.82,508.56L76.72,513.56M74.73,510.11L78.53,510.11M74.31,512.01L78.11,512.01" stroke="#1c1c1c" stroke-width="0.85" fill="none"/>
<rect x="75.47" y="551.09" width="3.90" height="70.21" fill="#f6b47f" />
<line x1="77.50" y1="548.02" x2="77.50" y2="554.16" stroke="#0a0a0a" stroke-width="1.0" />
<circle cx="77.42" cy="542.82" r="1.05" fill="#111"/>
<rect x="79.37" y="558.18" width="3.90" height="63.12" fill="#1f5185" />
<line x1="81.50" y1="543.05" x2="81.50" y2="573.31" stroke="#0a0a0a" stroke-width="1.0" />
<circle cx="81.32" cy="537.85" r="1.05" fill="#111"/>
<text x="98.35" y="472.60" font-size="7.4" text-anchor="middle" font-weight="bold" fill="#111" >IRF4</text>
<rect x="88.59" y="545.65" width="3.90" height="75.65" fill="#b5163a" />
<line x1="90.50" y1="518.70" x2="90.50" y2="572.60" stroke="#0a0a0a" stroke-width="1.0" />
<path d="M90.24,511.60L89.14,516.60M91.94,511.60L90.84,516.60M88.85,513.15L92.65,513.15M88.43,515.05L92.23,515.05" stroke="#1c1c1c" stroke-width="0.85" fill="none"/>
<rect x="92.49" y="550.14" width="3.90" height="71.16" fill="#47a94b" />
<line x1="94.50" y1="525.68" x2="94.50" y2="574.61" stroke="#0a0a0a" stroke-width="1.0" />
<path d="M94.14,518.58L93.04,523.58M95.84,518.58L94.74,523.58M92.75,520.13L96.55,520.13M92.33,522.03L96.13,522.03" stroke="#1c1c1c" stroke-width="0.85" fill="none"/>
<rect x="96.39" y="547.66" width="3.90" height="73.64" fill="#5b2a6f" />
<line x1="98.50" y1="528.99" x2="98.50" y2="566.34" stroke="#0a0a0a" stroke-width="1.0" />
<path d="M98.04,521.89L96.94,526.89M99.74,521.89L98.64,526.89M96.65,523.44L100.45,523.44M96.23,525.34L100.03,525.34" stroke="#1c1c1c" stroke-width="0.85" fill="none"/>
<rect x="100.29" y="551.44" width="3.90" height="69.86" fill="#f6b47f" />
<line x1="102.50" y1="550.38" x2="102.50" y2="552.51" stroke="#0a0a0a" stroke-width="1.0" />
<circle cx="102.24" cy="545.18" r="1.05" fill="#111"/>
<rect x="104.19" y="551.44" width="3.90" height="69.86" fill="#1f5185" />
<line x1="106.50" y1="546.01" x2="106.50" y2="556.88" stroke="#0a0a0a" stroke-width="1.0" />
<circle cx="106.14" cy="540.81" r="1.05" fill="#111"/>
<text x="123.17" y="472.60" font-size="7.4" text-anchor="middle" font-weight="bold" fill="#111" >SPIB</text>
<rect x="113.41" y="532.30" width="3.90" height="89.00" fill="#b5163a" />
<line x1="115.50" y1="522.84" x2="115.50" y2="541.75" stroke="#0a0a0a" stroke-width="1.0" />
<rect x="117.31" y="526.74" width="3.90" height="94.56" fill="#47a94b" />
<line x1="119.50" y1="518.70" x2="119.50" y2="534.78" stroke="#0a0a0a" stroke-width="1.0" />
<circle cx="117.86" cy="513.30" r="1.05" fill="#111"/>
<path d="M121.86,510.80L120.76,515.80M123.56,510.80L122.46,515.80M120.47,512.35L124.27,512.35M120.05,514.25L123.85,514.25" stroke="#1c1c1c" stroke-width="0.85" fill="none"/>
<rect x="121.21" y="524.85" width="3.90" height="96.45" fill="#5b2a6f" />
<line x1="123.50" y1="515.87" x2="123.50" y2="533.83" stroke="#0a0a0a" stroke-width="1.0" />
<rect x="125.11" y="533.24" width="3.90" height="88.06" fill="#f6b47f" />
<line x1="127.50" y1="520.71" x2="127.50" y2="545.77" stroke="#0a0a0a" stroke-width="1.0" />
<rect x="129.01" y="537.97" width="3.90" height="83.33" fill="#1f5185" />
<line x1="130.50" y1="525.20" x2="130.50" y2="550.73" stroke="#0a0a0a" stroke-width="1.0" />
<text x="147.99" y="472.60" font-size="7.4" text-anchor="middle" font-weight="bold" fill="#111" >CD19</text>
<rect x="138.23" y="527.21" width="3.90" height="94.09" fill="#b5163a" />
<line x1="140.50" y1="516.46" x2="140.50" y2="537.97" stroke="#0a0a0a" stroke-width="1.0" />
<path d="M139.88,509.36L138.78,514.36M141.58,509.36L140.48,514.36M138.49,510.91L142.29,510.91M138.07,512.81L141.87,512.81" stroke="#1c1c1c" stroke-width="0.85" fill="none"/>
<rect x="142.13" y="527.92" width="3.90" height="93.38" fill="#47a94b" />
<line x1="144.50" y1="515.87" x2="144.50" y2="539.98" stroke="#0a0a0a" stroke-width="1.0" />
<rect x="146.03" y="526.15" width="3.90" height="95.15" fill="#5b2a6f" />
<line x1="147.50" y1="513.74" x2="147.50" y2="538.56" stroke="#0a0a0a" stroke-width="1.0" />
<path d="M147.68,506.64L146.58,511.64M149.38,506.64L148.28,511.64M146.29,508.19L150.09,508.19M145.87,510.09L149.67,510.09" stroke="#1c1c1c" stroke-width="0.85" fill="none"/>
<rect x="149.93" y="518.11" width="3.90" height="103.19" fill="#f6b47f" />
<line x1="151.50" y1="510.19" x2="151.50" y2="526.03" stroke="#0a0a0a" stroke-width="1.0" />
<circle cx="151.88" cy="504.99" r="1.05" fill="#111"/>
<rect x="153.83" y="511.96" width="3.90" height="109.34" fill="#1f5185" />
<line x1="155.50" y1="504.99" x2="155.50" y2="518.94" stroke="#0a0a0a" stroke-width="1.0" />
<circle cx="155.78" cy="499.79" r="1.05" fill="#111"/>
<text x="172.81" y="472.60" font-size="7.4" text-anchor="middle" font-weight="bold" fill="#111" >CD38</text>
<rect x="163.05" y="548.37" width="3.90" height="72.93" fill="#b5163a" />
<line x1="164.50" y1="517.88" x2="164.50" y2="578.87" stroke="#0a0a0a" stroke-width="1.0" />
<path d="M164.70,510.77L163.60,515.77M166.40,510.77L165.30,515.77M163.31,512.32L167.11,512.32M162.89,514.23L166.69,514.23" stroke="#1c1c1c" stroke-width="0.85" fill="none"/>
<rect x="166.95" y="565.15" width="3.90" height="56.14" fill="#47a94b" />
<line x1="168.50" y1="526.98" x2="168.50" y2="603.33" stroke="#0a0a0a" stroke-width="1.0" />
<circle cx="167.50" cy="521.58" r="1.05" fill="#111"/>
<path d="M171.50,519.08L170.40,524.08M173.20,519.08L172.10,524.08M170.11,520.63L173.91,520.63M169.69,522.53L173.49,522.53" stroke="#1c1c1c" stroke-width="0.85" fill="none"/>
<rect x="170.85" y="548.37" width="3.90" height="72.93" fill="#5b2a6f" />
<line x1="172.50" y1="520.71" x2="172.50" y2="576.03" stroke="#0a0a0a" stroke-width="1.0" />
<path d="M172.50,513.61L171.40,518.61M174.20,513.61L173.10,518.61M171.11,515.16L174.91,515.16M170.69,517.06L174.49,517.06" stroke="#1c1c1c" stroke-width="0.85" fill="none"/>
<rect x="174.75" y="577.68" width="3.90" height="43.62" fill="#f6b47f" />
<line x1="176.50" y1="576.50" x2="176.50" y2="578.87" stroke="#0a0a0a" stroke-width="1.0" />
<circle cx="176.70" cy="571.30" r="1.05" fill="#111"/>
<rect x="178.65" y="567.52" width="3.90" height="53.78" fill="#1f5185" />
<line x1="180.50" y1="558.42" x2="180.50" y2="576.62" stroke="#0a0a0a" stroke-width="1.0" />
<circle cx="180.60" cy="553.22" r="1.05" fill="#111"/>
<text x="197.63" y="472.60" font-size="7.4" text-anchor="middle" font-weight="bold" fill="#111" >CXCR5</text>
<rect x="187.87" y="537.85" width="3.90" height="83.45" fill="#b5163a" />
<line x1="189.50" y1="522.84" x2="189.50" y2="552.86" stroke="#0a0a0a" stroke-width="1.0" />
<rect x="191.77" y="541.63" width="3.90" height="79.67" fill="#47a94b" />
<line x1="193.50" y1="531.47" x2="193.50" y2="551.80" stroke="#0a0a0a" stroke-width="1.0" />
<rect x="195.67" y="543.88" width="3.90" height="77.42" fill="#5b2a6f" />
<line x1="197.50" y1="530.29" x2="197.50" y2="557.47" stroke="#0a0a0a" stroke-width="1.0" />
<path d="M197.32,523.19L196.22,528.19M199.02,523.19L197.92,528.19M195.93,524.74L199.73,524.74M195.51,526.64L199.31,526.64" stroke="#1c1c1c" stroke-width="0.85" fill="none"/>
<rect x="199.57" y="534.07" width="3.90" height="87.23" fill="#f6b47f" />
<line x1="201.50" y1="524.97" x2="201.50" y2="543.17" stroke="#0a0a0a" stroke-width="1.0" />
<rect x="203.47" y="528.16" width="3.90" height="93.14" fill="#1f5185" />
<line x1="205.50" y1="523.90" x2="205.50" y2="532.41" stroke="#0a0a0a" stroke-width="1.0" />
<text x="222.45" y="472.60" font-size="7.4" text-anchor="middle" font-weight="bold" fill="#111" >BCL6</text>
<rect x="212.69" y="580.17" width="3.90" height="41.13" fill="#b5163a" />
<line x1="214.50" y1="550.38" x2="214.50" y2="609.95" stroke="#0a0a0a" stroke-width="1.0" />
<rect x="216.59" y="572.96" width="3.90" height="48.34" fill="#47a94b" />
<line x1="218.50" y1="556.05" x2="218.50" y2="589.86" stroke="#0a0a0a" stroke-width="1.0" />
<circle cx="217.14" cy="550.65" r="1.05" fill="#111"/>
<path d="M221.14,548.15L220.04,553.15M222.84,548.15L221.74,553.15M219.75,549.70L223.55,549.70M219.33,551.60L223.13,551.60" stroke="#1c1c1c" stroke-width="0.85" fill="none"/>
<rect x="220.49" y="570.95" width="3.90" height="50.35" fill="#5b2a6f" />
<line x1="222.50" y1="565.51" x2="222.50" y2="576.38" stroke="#0a0a0a" stroke-width="1.0" />
<path d="M222.14,558.41L221.04,563.41M223.84,558.41L222.74,563.41M220.75,559.96L224.55,559.96M220.33,561.86L224.13,561.86" stroke="#1c1c1c" stroke-width="0.85" fill="none"/>
<rect x="224.39" y="582.29" width="3.90" height="39.01" fill="#f6b47f" />
<line x1="226.50" y1="573.07" x2="226.50" y2="591.51" stroke="#0a0a0a" stroke-width="1.0" />
<rect x="228.29" y="560.31" width="3.90" height="60.99" fill="#1f5185" />
<line x1="230.50" y1="541.16" x2="230.50" y2="579.46" stroke="#0a0a0a" stroke-width="1.0" />
<path d="M229.94,534.06L228.84,539.06M231.64,534.06L230.54,539.06M228.55,535.61L232.35,535.61M228.13,537.51L231.93,537.51" stroke="#1c1c1c" stroke-width="0.85" fill="none"/>
<text x="247.27" y="472.60" font-size="7.4" text-anchor="middle" font-weight="bold" fill="#111" >CCR2</text>
<rect x="237.51" y="541.63" width="3.90" height="79.67" fill="#b5163a" />
<line x1="239.50" y1="516.81" x2="239.50" y2="566.46" stroke="#0a0a0a" stroke-width="1.0" />
<path d="M239.16,509.71L238.06,514.71M240.86,509.71L239.76,514.71M237.77,511.26L241.57,511.26M237.35,513.16L241.15,513.16" stroke="#1c1c1c" stroke-width="0.85" fill="none"/>
<rect x="241.41" y="551.09" width="3.90" height="70.21" fill="#47a94b" />
<line x1="243.50" y1="525.32" x2="243.50" y2="576.86" stroke="#0a0a0a" stroke-width="1.0" />
<circle cx="241.96" cy="519.92" r="1.05" fill="#111"/>
<path d="M245.96,517.42L244.86,522.42M247.66,517.42L246.56,522.42M244.57,518.97L248.37,518.97M244.15,520.87L247.95,520.87" stroke="#1c1c1c" stroke-width="0.85" fill="none"/>
<rect x="245.31" y="573.67" width="3.90" height="47.63" fill="#5b2a6f" />
<line x1="247.50" y1="550.03" x2="247.50" y2="597.31" stroke="#0a0a0a" stroke-width="1.0" />
<circle cx="245.86" cy="544.63" r="1.05" fill="#111"/>
<path d="M249.86,542.13L248.76,547.13M251.56,542.13L250.46,547.13M248.47,543.68L252.27,543.68M248.05,545.58L251.85,545.58" stroke="#1c1c1c" stroke-width="0.85" fill="none"/>
<rect x="249.21" y="605.22" width="3.90" height="16.08" fill="#f6b47f" />
<line x1="251.50" y1="591.16" x2="251.50" y2="619.29" stroke="#0a0a0a" stroke-width="1.0" />
<circle cx="251.16" cy="585.96" r="1.05" fill="#111"/>
<rect x="253.11" y="614.44" width="3.90" height="6.86" fill="#1f5185" />
<line x1="255.50" y1="575.79" x2="255.50" y2="621.30" stroke="#0a0a0a" stroke-width="1.0" />
<circle cx="255.06" cy="570.59" r="1.05" fill="#111"/>
<text x="272.09" y="472.60" font-size="7.4" text-anchor="middle" font-weight="bold" fill="#111" >IL4R</text>
<rect x="262.33" y="559.84" width="3.90" height="61.46" fill="#b5163a" />
<line x1="264.50" y1="521.42" x2="264.50" y2="598.25" stroke="#0a0a0a" stroke-width="1.0" />
<rect x="266.23" y="559.84" width="3.90" height="61.46" fill="#47a94b" />
<line x1="268.50" y1="538.56" x2="268.50" y2="581.11" stroke="#0a0a0a" stroke-width="1.0" />
<rect x="270.13" y="559.36" width="3.90" height="61.94" fill="#5b2a6f" />
<line x1="272.50" y1="546.95" x2="272.50" y2="571.77" stroke="#0a0a0a" stroke-width="1.0" />
<rect x="274.03" y="549.20" width="3.90" height="72.10" fill="#f6b47f" />
<line x1="275.50" y1="541.28" x2="275.50" y2="557.12" stroke="#0a0a0a" stroke-width="1.0" />
<rect x="277.93" y="510.19" width="3.90" height="111.11" fill="#1f5185" />
<line x1="279.50" y1="502.27" x2="279.50" y2="518.11" stroke="#0a0a0a" stroke-width="1.0" />
<circle cx="278.48" cy="496.87" r="1.05" fill="#111"/>
<path d="M282.48,494.37L281.38,499.37M284.18,494.37L283.08,499.37M281.09,495.92L284.89,495.92M280.67,497.82L284.47,497.82" stroke="#1c1c1c" stroke-width="0.85" fill="none"/>
<text x="296.91" y="472.60" font-size="7.4" text-anchor="middle" font-weight="bold" fill="#111" >BLK</text>
<rect x="287.15" y="553.10" width="3.90" height="68.20" fill="#b5163a" />
<line x1="289.50" y1="535.13" x2="289.50" y2="571.06" stroke="#0a0a0a" stroke-width="1.0" />
<path d="M288.80,528.03L287.70,533.03M290.50,528.03L289.40,533.03M287.41,529.58L291.21,529.58M286.99,531.48L290.79,531.48" stroke="#1c1c1c" stroke-width="0.85" fill="none"/>
<rect x="291.05" y="540.45" width="3.90" height="80.85" fill="#47a94b" />
<line x1="292.50" y1="523.78" x2="292.50" y2="557.12" stroke="#0a0a0a" stroke-width="1.0" />
<circle cx="291.60" cy="518.38" r="1.05" fill="#111"/>
<path d="M295.60,515.88L294.50,520.88M297.30,515.88L296.20,520.88M294.21,517.43L298.01,517.43M293.79,519.34L297.59,519.34" stroke="#1c1c1c" stroke-width="0.85" fill="none"/>
<rect x="294.95" y="531.11" width="3.90" height="90.19" fill="#5b2a6f" />
<line x1="296.50" y1="523.19" x2="296.50" y2="539.03" stroke="#0a0a0a" stroke-width="1.0" />
<circle cx="295.50" cy="517.79" r="1.05" fill="#111"/>
<path d="M299.50,515.29L298.40,520.29M301.20,515.29L300.10,520.29M298.11,516.84L301.91,516.84M297.69,518.74L301.49,518.74" stroke="#1c1c1c" stroke-width="0.85" fill="none"/>
<rect x="298.85" y="514.92" width="3.90" height="106.38" fill="#f6b47f" />
<line x1="300.50" y1="506.29" x2="300.50" y2="523.55" stroke="#0a0a0a" stroke-width="1.0" />
<circle cx="300.80" cy="501.09" r="1.05" fill="#111"/>
<rect x="302.75" y="514.92" width="3.90" height="106.38" fill="#1f5185" />
<line x1="304.50" y1="509.72" x2="304.50" y2="520.12" stroke="#0a0a0a" stroke-width="1.0" />
<circle cx="304.70" cy="504.52" r="1.05" fill="#111"/>
<text x="321.73" y="472.60" font-size="7.4" text-anchor="middle" font-weight="bold" fill="#111" >MS4A1</text>
<rect x="311.97" y="507.24" width="3.90" height="114.06" fill="#b5163a" />
<line x1="313.50" y1="487.73" x2="313.50" y2="526.74" stroke="#0a0a0a" stroke-width="1.0" />
<path d="M313.62,480.63L312.52,485.63M315.32,480.63L314.22,485.63M312.23,482.18L316.03,482.18M311.81,484.08L315.61,484.08" stroke="#1c1c1c" stroke-width="0.85" fill="none"/>
<rect x="315.87" y="508.06" width="3.90" height="113.24" fill="#47a94b" />
<line x1="317.50" y1="497.78" x2="317.50" y2="518.35" stroke="#0a0a0a" stroke-width="1.0" />
<path d="M317.52,490.68L316.42,495.68M319.22,490.68L318.12,495.68M316.13,492.23L319.93,492.23M315.71,494.13L319.51,494.13" stroke="#1c1c1c" stroke-width="0.85" fill="none"/>
<rect x="319.77" y="510.43" width="3.90" height="110.87" fill="#5b2a6f" />
<line x1="321.50" y1="495.65" x2="321.50" y2="525.20" stroke="#0a0a0a" stroke-width="1.0" />
<path d="M321.42,488.55L320.32,493.55M323.12,488.55L322.02,493.55M320.03,490.10L323.83,490.10M319.61,492.00L323.41,492.00" stroke="#1c1c1c" stroke-width="0.85" fill="none"/>
<rect x="323.67" y="497.90" width="3.90" height="123.40" fill="#f6b47f" />
<line x1="325.50" y1="491.40" x2="325.50" y2="504.40" stroke="#0a0a0a" stroke-width="1.0" />
<circle cx="325.62" cy="486.20" r="1.05" fill="#111"/>
<rect x="327.57" y="496.36" width="3.90" height="124.94" fill="#1f5185" />
<line x1="329.50" y1="492.70" x2="329.50" y2="500.03" stroke="#0a0a0a" stroke-width="1.0" />
<circle cx="329.52" cy="487.50" r="1.05" fill="#111"/>
<text x="346.55" y="472.60" font-size="7.4" text-anchor="middle" font-weight="bold" fill="#111" >SDC1</text>
<rect x="336.79" y="572.48" width="3.90" height="48.82" fill="#b5163a" />
<line x1="338.50" y1="535.49" x2="338.50" y2="609.48" stroke="#0a0a0a" stroke-width="1.0" />
<path d="M338.44,528.39L337.34,533.39M340.14,528.39L339.04,533.39M337.05,529.94L340.85,529.94M336.63,531.84L340.43,531.84" stroke="#1c1c1c" stroke-width="0.85" fill="none"/>
<rect x="340.69" y="574.73" width="3.90" height="46.57" fill="#47a94b" />
<line x1="342.50" y1="545.30" x2="342.50" y2="604.16" stroke="#0a0a0a" stroke-width="1.0" />
<path d="M342.34,538.20L341.24,543.20M344.04,538.20L342.94,543.20M340.95,539.75L344.75,539.75M340.53,541.65L344.33,541.65" stroke="#1c1c1c" stroke-width="0.85" fill="none"/>
<rect x="344.59" y="584.54" width="3.90" height="36.76" fill="#5b2a6f" />
<line x1="346.50" y1="559.48" x2="346.50" y2="609.60" stroke="#0a0a0a" stroke-width="1.0" />
<path d="M346.24,552.38L345.14,557.38M347.94,552.38L346.84,557.38M344.85,553.93L348.65,553.93M344.43,555.83L348.23,555.83" stroke="#1c1c1c" stroke-width="0.85" fill="none"/>
<rect x="348.49" y="619.17" width="3.90" height="2.13" fill="#f6b47f" />
<line x1="350.50" y1="614.21" x2="350.50" y2="621.30" stroke="#0a0a0a" stroke-width="1.0" />
<circle cx="350.44" cy="609.01" r="1.05" fill="#111"/>
<rect x="352.39" y="620.71" width="3.90" height="0.59" fill="#1f5185" />
<line x1="354.50" y1="617.75" x2="354.50" y2="621.30" stroke="#0a0a0a" stroke-width="1.0" />
<circle cx="354.34" cy="612.55" r="1.05" fill="#111"/>
<text x="371.37" y="472.60" font-size="7.4" text-anchor="middle" font-weight="bold" fill="#111" >CD27</text>
<rect x="361.61" y="530.05" width="3.90" height="91.25" fill="#b5163a" />
<line x1="363.50" y1="504.05" x2="363.50" y2="556.05" stroke="#0a0a0a" stroke-width="1.0" />
<rect x="365.51" y="537.85" width="3.90" height="83.45" fill="#47a94b" />
<line x1="367.50" y1="527.57" x2="367.50" y2="548.13" stroke="#0a0a0a" stroke-width="1.0" />
<circle cx="367.46" cy="522.37" r="1.05" fill="#111"/>
<rect x="369.41" y="543.88" width="3.90" height="77.42" fill="#5b2a6f" />
<line x1="371.50" y1="529.69" x2="371.50" y2="558.06" stroke="#0a0a0a" stroke-width="1.0" />
<rect x="373.31" y="543.29" width="3.90" height="78.01" fill="#f6b47f" />
<line x1="375.50" y1="534.19" x2="375.50" y2="552.39" stroke="#0a0a0a" stroke-width="1.0" />
<circle cx="375.26" cy="528.99" r="1.05" fill="#111"/>
<rect x="377.21" y="573.67" width="3.90" height="47.63" fill="#1f5185" />
<line x1="379.50" y1="554.64" x2="379.50" y2="592.70" stroke="#0a0a0a" stroke-width="1.0" />
<circle cx="377.76" cy="549.24" r="1.05" fill="#111"/>
<path d="M381.76,546.74L380.66,551.74M383.46,546.74L382.36,551.74M380.37,548.29L384.17,548.29M379.95,550.19L383.75,550.19" stroke="#1c1c1c" stroke-width="0.85" fill="none"/>
<text x="396.19" y="472.60" font-size="7.4" text-anchor="middle" font-weight="bold" fill="#111" >PAX5</text>
<rect x="386.43" y="534.54" width="3.90" height="86.76" fill="#b5163a" />
<line x1="388.50" y1="516.22" x2="388.50" y2="552.86" stroke="#0a0a0a" stroke-width="1.0" />
<path d="M388.08,509.12L386.98,514.12M389.78,509.12L388.68,514.12M386.69,510.67L390.49,510.67M386.27,512.57L390.07,512.57" stroke="#1c1c1c" stroke-width="0.85" fill="none"/>
<rect x="390.33" y="530.05" width="3.90" height="91.25" fill="#47a94b" />
<line x1="392.50" y1="523.31" x2="392.50" y2="536.79" stroke="#0a0a0a" stroke-width="1.0" />
<path d="M391.98,516.21L390.88,521.21M393.68,516.21L392.58,521.21M390.59,517.76L394.39,517.76M390.17,519.66L393.97,519.66" stroke="#1c1c1c" stroke-width="0.85" fill="none"/>
<rect x="394.23" y="531.59" width="3.90" height="89.71" fill="#5b2a6f" />
<line x1="396.50" y1="524.85" x2="396.50" y2="538.32" stroke="#0a0a0a" stroke-width="1.0" />
<rect x="398.13" y="527.09" width="3.90" height="94.21" fill="#f6b47f" />
<line x1="400.50" y1="518.35" x2="400.50" y2="535.84" stroke="#0a0a0a" stroke-width="1.0" />
<circle cx="400.08" cy="513.15" r="1.05" fill="#111"/>
<rect x="402.03" y="518.11" width="3.90" height="103.19" fill="#1f5185" />
<line x1="403.50" y1="514.33" x2="403.50" y2="521.89" stroke="#0a0a0a" stroke-width="1.0" />
<circle cx="403.98" cy="509.13" r="1.05" fill="#111"/>
<text x="421.01" y="472.60" font-size="7.4" text-anchor="middle" font-weight="bold" fill="#111" >BACH2</text>
<rect x="411.25" y="570.24" width="3.90" height="51.06" fill="#b5163a" />
<line x1="413.50" y1="548.61" x2="413.50" y2="591.87" stroke="#0a0a0a" stroke-width="1.0" />
<path d="M412.90,541.51L411.80,546.51M414.60,541.51L413.50,546.51M411.51,543.06L415.31,543.06M411.09,544.96L414.89,544.96" stroke="#1c1c1c" stroke-width="0.85" fill="none"/>
<rect x="415.15" y="558.65" width="3.90" height="62.65" fill="#47a94b" />
<line x1="417.50" y1="538.32" x2="417.50" y2="578.98" stroke="#0a0a0a" stroke-width="1.0" />
<circle cx="415.70" cy="532.92" r="1.05" fill="#111"/>
<path d="M419.70,530.42L418.60,535.42M421.40,530.42L420.30,535.42M418.31,531.97L422.11,531.97M417.89,533.87L421.69,533.87" stroke="#1c1c1c" stroke-width="0.85" fill="none"/>
<rect x="419.05" y="555.70" width="3.90" height="65.60" fill="#5b2a6f" />
<line x1="420.50" y1="542.46" x2="420.50" y2="568.94" stroke="#0a0a0a" stroke-width="1.0" />
<rect x="422.95" y="559.84" width="3.90" height="61.46" fill="#f6b47f" />
<line x1="424.50" y1="547.42" x2="424.50" y2="572.25" stroke="#0a0a0a" stroke-width="1.0" />
<circle cx="424.90" cy="542.22" r="1.05" fill="#111"/>
<rect x="426.85" y="539.86" width="3.90" height="81.44" fill="#1f5185" />
<line x1="428.50" y1="535.84" x2="428.50" y2="543.88" stroke="#0a0a0a" stroke-width="1.0" />
<circle cx="428.80" cy="530.64" r="1.05" fill="#111"/>
<text x="445.83" y="472.60" font-size="7.4" text-anchor="middle" font-weight="bold" fill="#111" >EBF1</text>
<rect x="436.07" y="560.19" width="3.90" height="61.11" fill="#b5163a" />
<line x1="438.50" y1="548.61" x2="438.50" y2="571.77" stroke="#0a0a0a" stroke-width="1.0" />
<path d="M437.72,541.51L436.62,546.51M439.42,541.51L438.32,546.51M436.33,543.06L440.13,543.06M435.91,544.96L439.71,544.96" stroke="#1c1c1c" stroke-width="0.85" fill="none"/>
<rect x="439.97" y="561.14" width="3.90" height="60.16" fill="#47a94b" />
<line x1="441.50" y1="546.60" x2="441.50" y2="575.67" stroke="#0a0a0a" stroke-width="1.0" />
<circle cx="440.52" cy="541.20" r="1.05" fill="#111"/>
<path d="M444.52,538.70L443.42,543.70M446.22,538.70L445.12,543.70M443.13,540.25L446.93,540.25M442.71,542.15L446.51,542.15" stroke="#1c1c1c" stroke-width="0.85" fill="none"/>
<rect x="443.87" y="559.48" width="3.90" height="61.82" fill="#5b2a6f" />
<line x1="445.50" y1="540.21" x2="445.50" y2="578.75" stroke="#0a0a0a" stroke-width="1.0" />
<rect x="447.77" y="549.20" width="3.90" height="72.10" fill="#f6b47f" />
<line x1="449.50" y1="546.83" x2="449.50" y2="551.56" stroke="#0a0a0a" stroke-width="1.0" />
<circle cx="449.72" cy="541.63" r="1.05" fill="#111"/>
<rect x="451.67" y="549.67" width="3.90" height="71.63" fill="#1f5185" />
<line x1="453.50" y1="544.12" x2="453.50" y2="555.23" stroke="#0a0a0a" stroke-width="1.0" />
<circle cx="453.62" cy="538.92" r="1.05" fill="#111"/>
<text x="470.65" y="472.60" font-size="7.4" text-anchor="middle" font-weight="bold" fill="#111" >SOX5</text>
<rect x="460.89" y="598.61" width="3.90" height="22.69" fill="#b5163a" />
<line x1="462.50" y1="577.57" x2="462.50" y2="619.65" stroke="#0a0a0a" stroke-width="1.0" />
<rect x="464.79" y="576.62" width="3.90" height="44.68" fill="#47a94b" />
<line x1="466.50" y1="568.23" x2="466.50" y2="585.01" stroke="#0a0a0a" stroke-width="1.0" />
<circle cx="465.34" cy="562.83" r="1.05" fill="#111"/>
<path d="M469.34,560.33L468.24,565.33M471.04,560.33L469.94,565.33M467.95,561.88L471.75,561.88M467.53,563.78L471.33,563.78" stroke="#1c1c1c" stroke-width="0.85" fill="none"/>
<rect x="468.69" y="567.64" width="3.90" height="53.66" fill="#5b2a6f" />
<line x1="470.50" y1="549.67" x2="470.50" y2="585.60" stroke="#0a0a0a" stroke-width="1.0" />
<rect x="472.59" y="592.34" width="3.90" height="28.96" fill="#f6b47f" />
<line x1="474.50" y1="578.75" x2="474.50" y2="605.93" stroke="#0a0a0a" stroke-width="1.0" />
<rect x="476.49" y="599.20" width="3.90" height="22.10" fill="#1f5185" />
<line x1="478.50" y1="576.15" x2="478.50" y2="621.30" stroke="#0a0a0a" stroke-width="1.0" />
<text x="495.47" y="472.60" font-size="7.4" text-anchor="middle" font-weight="bold" fill="#111" >IRF8</text>
<rect x="485.71" y="546.01" width="3.90" height="75.29" fill="#b5163a" />
<line x1="487.50" y1="524.85" x2="487.50" y2="567.16" stroke="#0a0a0a" stroke-width="1.0" />
<path d="M487.36,517.75L486.26,522.75M489.06,517.75L487.96,522.75M485.97,519.30L489.77,519.30M485.55,521.20L489.35,521.20" stroke="#1c1c1c" stroke-width="0.85" fill="none"/>
<rect x="489.61" y="524.85" width="3.90" height="96.45" fill="#47a94b" />
<line x1="491.50" y1="515.87" x2="491.50" y2="533.83" stroke="#0a0a0a" stroke-width="1.0" />
<circle cx="490.16" cy="510.47" r="1.05" fill="#111"/>
<path d="M494.16,507.97L493.06,512.97M495.86,507.97L494.76,512.97M492.77,509.52L496.57,509.52M492.35,511.42L496.15,511.42" stroke="#1c1c1c" stroke-width="0.85" fill="none"/>
<rect x="493.51" y="526.15" width="3.90" height="95.15" fill="#5b2a6f" />
<line x1="495.50" y1="517.99" x2="495.50" y2="534.30" stroke="#0a0a0a" stroke-width="1.0" />
<rect x="497.41" y="514.45" width="3.90" height="106.85" fill="#f6b47f" />
<line x1="499.50" y1="509.36" x2="499.50" y2="519.53" stroke="#0a0a0a" stroke-width="1.0" />
<circle cx="499.36" cy="504.16" r="1.05" fill="#111"/>
<rect x="501.31" y="509.36" width="3.90" height="111.94" fill="#1f5185" />
<line x1="503.50" y1="503.10" x2="503.50" y2="515.63" stroke="#0a0a0a" stroke-width="1.0" />
<circle cx="503.26" cy="497.90" r="1.05" fill="#111"/>
<line x1="36.30" y1="478.50" x2="36.30" y2="621.30" stroke="#1a1a1a" stroke-width="1.0" />
<line x1="36.30" y1="621.30" x2="510.40" y2="621.30" stroke="#1a1a1a" stroke-width="1.0" />
<line x1="33.30" y1="621.30" x2="36.30" y2="621.30" stroke="#1a1a1a" stroke-width="0.9" />
<text x="31.00" y="624.10" font-size="8.0" text-anchor="end" font-weight="normal" fill="#151515" >0</text>
<line x1="33.30" y1="597.66" x2="36.30" y2="597.66" stroke="#1a1a1a" stroke-width="0.9" />
<text x="31.00" y="600.46" font-size="8.0" text-anchor="end" font-weight="normal" fill="#151515" >2</text>
<line x1="33.30" y1="574.02" x2="36.30" y2="574.02" stroke="#1a1a1a" stroke-width="0.9" />
<text x="31.00" y="576.82" font-size="8.0" text-anchor="end" font-weight="normal" fill="#151515" >4</text>
<line x1="33.30" y1="550.38" x2="36.30" y2="550.38" stroke="#1a1a1a" stroke-width="0.9" />
<text x="31.00" y="553.18" font-size="8.0" text-anchor="end" font-weight="normal" fill="#151515" >6</text>
<line x1="33.30" y1="526.74" x2="36.30" y2="526.74" stroke="#1a1a1a" stroke-width="0.9" />
<text x="31.00" y="529.54" font-size="8.0" text-anchor="end" font-weight="normal" fill="#151515" >8</text>
<line x1="33.30" y1="503.10" x2="36.30" y2="503.10" stroke="#1a1a1a" stroke-width="0.9" />
<text x="31.00" y="505.90" font-size="8.0" text-anchor="end" font-weight="normal" fill="#151515" >10</text>
<line x1="33.30" y1="479.46" x2="36.30" y2="479.46" stroke="#1a1a1a" stroke-width="0.9" />
<text x="31.00" y="482.26" font-size="8.0" text-anchor="end" font-weight="normal" fill="#151515" >12</text>
<line x1="36.30" y1="621.30" x2="36.30" y2="623.80" stroke="#1a1a1a" stroke-width="0.8" />
<line x1="61.12" y1="621.30" x2="61.12" y2="623.80" stroke="#1a1a1a" stroke-width="0.8" />
<line x1="85.94" y1="621.30" x2="85.94" y2="623.80" stroke="#1a1a1a" stroke-width="0.8" />
<line x1="110.76" y1="621.30" x2="110.76" y2="623.80" stroke="#1a1a1a" stroke-width="0.8" />
<line x1="135.58" y1="621.30" x2="135.58" y2="623.80" stroke="#1a1a1a" stroke-width="0.8" />
<line x1="160.40" y1="621.30" x2="160.40" y2="623.80" stroke="#1a1a1a" stroke-width="0.8" />
<line x1="185.22" y1="621.30" x2="185.22" y2="623.80" stroke="#1a1a1a" stroke-width="0.8" />
<line x1="210.04" y1="621.30" x2="210.04" y2="623.80" stroke="#1a1a1a" stroke-width="0.8" />
<line x1="234.86" y1="621.30" x2="234.86" y2="623.80" stroke="#1a1a1a" stroke-width="0.8" />
<line x1="259.68" y1="621.30" x2="259.68" y2="623.80" stroke="#1a1a1a" stroke-width="0.8" />
<line x1="284.50" y1="621.30" x2="284.50" y2="623.80" stroke="#1a1a1a" stroke-width="0.8" />
<line x1="309.32" y1="621.30" x2="309.32" y2="623.80" stroke="#1a1a1a" stroke-width="0.8" />
<line x1="334.14" y1="621.30" x2="334.14" y2="623.80" stroke="#1a1a1a" stroke-width="0.8" />
<line x1="358.96" y1="621.30" x2="358.96" y2="623.80" stroke="#1a1a1a" stroke-width="0.8" />
<line x1="383.78" y1="621.30" x2="383.78" y2="623.80" stroke="#1a1a1a" stroke-width="0.8" />
<line x1="408.60" y1="621.30" x2="408.60" y2="623.80" stroke="#1a1a1a" stroke-width="0.8" />
<line x1="433.42" y1="621.30" x2="433.42" y2="623.80" stroke="#1a1a1a" stroke-width="0.8" />
<line x1="458.24" y1="621.30" x2="458.24" y2="623.80" stroke="#1a1a1a" stroke-width="0.8" />
<line x1="483.06" y1="621.30" x2="483.06" y2="623.80" stroke="#1a1a1a" stroke-width="0.8" />
<line x1="507.88" y1="621.30" x2="507.88" y2="623.80" stroke="#1a1a1a" stroke-width="0.8" />
<text transform="translate(16.4,549.5) rotate(-90)" font-size="9" text-anchor="middle" fill="#222">Transcripts per Million (Log 2)</text>
<rect x="47.70" y="633.60" width="6.70" height="6.40" fill="#b5163a" />
<text x="57.70" y="639.60" font-size="7.7" text-anchor="start" font-weight="normal" fill="#151515" >MYD88<tspan font-size="4.8" dy="-2.9">L265P</tspan><tspan dy="2.9">CXCR4</tspan><tspan font-size="4.8" dy="-2.9">WT</tspan></text>
<rect x="148.50" y="633.40" width="6.70" height="6.40" fill="#47a94b" />
<text x="158.50" y="639.40" font-size="7.7" text-anchor="start" font-weight="normal" fill="#151515" >MYD88<tspan font-size="4.8" dy="-2.9">L265P</tspan><tspan dy="2.9">CXCR4</tspan><tspan font-size="4.8" dy="-2.9">WHIM</tspan></text>
<rect x="266.20" y="633.40" width="6.70" height="6.40" fill="#5b2a6f" />
<text x="276.20" y="639.40" font-size="7.7" text-anchor="start" font-weight="normal" fill="#151515" >MYD88<tspan font-size="4.8" dy="-2.9">WT</tspan><tspan dy="2.9">CXCR4</tspan><tspan font-size="4.8" dy="-2.9">WT</tspan></text>
<rect x="47.70" y="648.70" width="6.70" height="6.40" fill="#f6b47f" />
<text x="57.70" y="654.70" font-size="7.7" text-anchor="start" font-weight="normal" fill="#151515" >HD Memory B-cell</text>
<rect x="148.50" y="648.70" width="6.70" height="6.40" fill="#1f5185" />
<text x="158.50" y="654.70" font-size="7.7" text-anchor="start" font-weight="normal" fill="#151515" >HD Peripheral Blood B-cell</text>
<circle cx="362.6" cy="637.2" r="1.25" fill="#1a1a1a"/>
<text x="369.00" y="639.40" font-size="7.7" text-anchor="start" font-weight="normal" fill="#151515" ><tspan font-style="italic">P</tspan> &lt; .05 versus MYD88<tspan font-size="4.8" dy="-2.9">L265P</tspan><tspan dy="2.9">CXCR4</tspan><tspan font-size="4.8" dy="-2.9">WT</tspan></text>
<text x="361.50" y="654.20" font-size="7.7" text-anchor="middle" font-weight="normal" fill="#151515" font-style="italic">#</text>
<text x="369.00" y="654.20" font-size="7.7" text-anchor="start" font-weight="normal" fill="#151515" ><tspan font-style="italic">P</tspan> &lt; .05 versus HD Memory B-cells</text>
<rect x="0.5" y="0.5" width="519" height="663" fill="none" stroke="#111" stroke-width="1.2"/>
</svg>
</body></html>
